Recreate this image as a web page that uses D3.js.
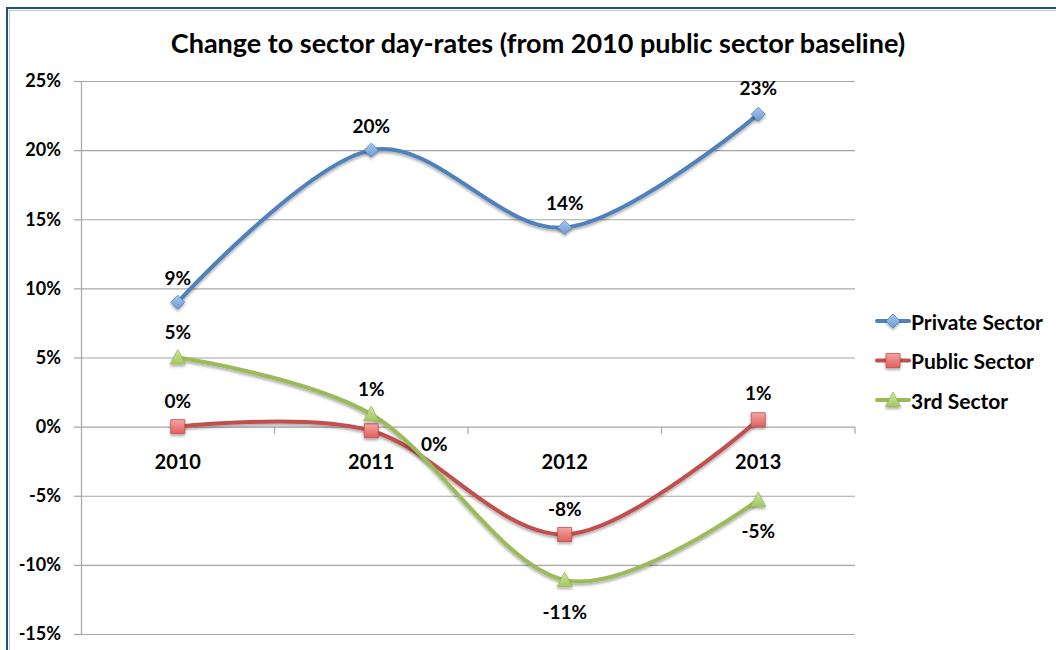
<!DOCTYPE html>
<html><head><meta charset="utf-8">
<script src="https://cdn.jsdelivr.net/npm/d3@7"></script>
<style>
html,body{margin:0;padding:0;background:#fff;}
text{font-family:Lato,"Open Sans",sans-serif;font-weight:bold;fill:#000;}
</style></head>
<body>
<svg id="c" width="1056" height="650"></svg>
<script>
const title = "Change to sector day-rates (from 2010 public sector baseline)";
const years = ["2010","2011","2012","2013"];
const privateSector = [9.0, 20.0, 14.4, 22.6];
const publicSector = [0.0, -0.3, -7.8, 0.5];
const thirdSector = [5.0, 0.9, -11.1, -5.3];
const privateLabels = ["9%","20%","14%","23%"];
const publicLabels = ["0%","0%","-8%","1%"];
const thirdLabels = ["5%","1%","-11%","-5%"];
const yTicks = [-15,-10,-5,0,5,10,15,20,25];
const seriesNames = ["Private Sector","Public Sector","3rd Sector"];

const svg = d3.select("#c");
const defs = svg.append("defs");

// frame
svg.append("rect").attr("x",7).attr("y",8).attr("width",1060).attr("height",660)
  .attr("fill","none").attr("stroke","#1F4E8C").attr("stroke-width",2);
svg.append("rect").attr("x",9.5).attr("y",10.5).attr("width",1060).attr("height",660)
  .attr("fill","none").attr("stroke","#c8c8c8").attr("stroke-width",1);

const L = 81, R = 855, T = 81, B = 634;
const x = d3.scaleBand().domain(years).range([L,R]);
const y = d3.scaleLinear().domain([-15,25]).range([B,T]);
const cx = d => x(d) + x.bandwidth()/2;

// shadow filter
const f = defs.append("filter").attr("id","sh").attr("x","-20%").attr("y","-20%").attr("width","140%").attr("height","160%");
f.append("feGaussianBlur").attr("in","SourceAlpha").attr("stdDeviation",1.5).attr("result","b");
f.append("feOffset").attr("in","b").attr("dx",0).attr("dy",2).attr("result","o");
f.append("feComponentTransfer").attr("in","o").attr("result","o2").append("feFuncA").attr("type","linear").attr("slope",0.35);
const fm = f.append("feMerge"); fm.append("feMergeNode").attr("in","o2"); fm.append("feMergeNode").attr("in","SourceGraphic");

// title
svg.append("text").attr("x",538).attr("y",53).attr("text-anchor","middle")
  .style("font-size","27px").text(title);

// gridlines + y axis
const yAxis = d3.axisLeft(y).tickValues(yTicks).tickSize(7).tickFormat(d => d + "%");
const gy = svg.append("g").attr("transform",`translate(${L},0)`).call(yAxis);
gy.select(".domain").attr("stroke","#a6a6a6").attr("stroke-width",1.2);
gy.selectAll(".tick line").attr("stroke","#a6a6a6").attr("stroke-width",1.2);
gy.selectAll(".tick text").attr("x",-20).style("font-size","18px").style("font-family","Lato,sans-serif");
gy.selectAll(".tick").append("line").attr("x1",0).attr("x2",R-L).attr("stroke","#a6a6a6").attr("stroke-width",1.2);

// x axis at zero with ticks at band boundaries
const gx = svg.append("g").attr("transform",`translate(0,${y(0)})`);
const bounds = years.map(d => x(d)).concat([R]).slice(1);
gx.selectAll("line.t").data(bounds).join("line").attr("class","t")
  .attr("x1",d=>d).attr("x2",d=>d).attr("y1",0).attr("y2",7).attr("stroke","#a6a6a6").attr("stroke-width",1.2);
gx.selectAll("text").data(years).join("text").attr("x",d=>cx(d)).attr("y",34)
  .attr("text-anchor","middle").attr("dominant-baseline","central").style("font-size","20px").text(d=>d);

const series = [
  {name:seriesNames[0], vals:privateSector, labels:privateLabels, color:"#4F81BD", fill:["#A7C6EE","#6C9BD6"], shape:"diamond",
   off:[[0,-25],[0,-25],[0,-25],[0,-27]]},
  {name:seriesNames[1], vals:publicSector, labels:publicLabels, color:"#C0504D", fill:["#F4A6A4","#E0605C"], shape:"square",
   off:[[0,-26],[63,13],[0,-26],[0,-27]]},
  {name:seriesNames[2], vals:thirdSector, labels:thirdLabels, color:"#9BBB59", fill:["#CFE6A6","#A3C85F"], shape:"triangle",
   off:[[0,-26],[0,-26],[0,31],[0,31]]}
];

series.forEach((s,i) => {
  const g = defs.append("linearGradient").attr("id","g"+i).attr("x1",0).attr("y1",0).attr("x2",0).attr("y2",1);
  g.append("stop").attr("offset","0%").attr("stop-color",s.fill[0]);
  g.append("stop").attr("offset","100%").attr("stop-color",s.fill[1]);
});

const line = d3.line().x((d,i)=>cx(years[i])).y(d=>y(d)).curve(d3.curveCardinal.tension(0));

series.forEach((s,i) => {
  svg.append("path").datum(s.vals).attr("d",line).attr("fill","none")
    .attr("stroke",s.color).attr("stroke-width",4).attr("stroke-linecap","round").attr("filter","url(#sh)");
});

function marker(sel, shape, color, gi){
  let p;
  if(shape==="diamond") p = "M0,-7L7,0L0,7L-7,0Z";
  else if(shape==="square") p = "M-7,-7H7V7H-7Z";
  else p = "M0,-8L7.5,6.5H-7.5Z";
  sel.append("path").attr("d",p).attr("fill",`url(#g${gi})`).attr("stroke",color).attr("stroke-width",0.8).attr("filter","url(#sh)");
}

series.forEach((s,i) => {
  s.vals.forEach((v,j) => {
    const g = svg.append("g").attr("transform",`translate(${cx(years[j])},${y(v)})`);
    marker(g, s.shape, s.color, i);
  });
});

series.forEach((s,i) => {
  s.vals.forEach((v,j) => {
    svg.append("text").attr("x",cx(years[j])+s.off[j][0]).attr("y",y(v)+s.off[j][1])
      .attr("text-anchor","middle").attr("dominant-baseline","central").style("font-size","19px").text(s.labels[j]);
  });
});

// legend
const lg = svg.append("g");
series.forEach((s,i) => {
  const yy = 321 + i*39.5;
  lg.append("line").attr("x1",877).attr("x2",909).attr("y1",yy).attr("y2",yy).attr("stroke",s.color).attr("stroke-width",4).attr("stroke-linecap","round");
  const g = lg.append("g").attr("transform",`translate(893,${yy})`);
  marker(g, s.shape, s.color, i);
  lg.append("text").attr("x",911).attr("y",yy).attr("dominant-baseline","central").style("font-size","21px").text(s.name);
});
</script>
</body></html>
